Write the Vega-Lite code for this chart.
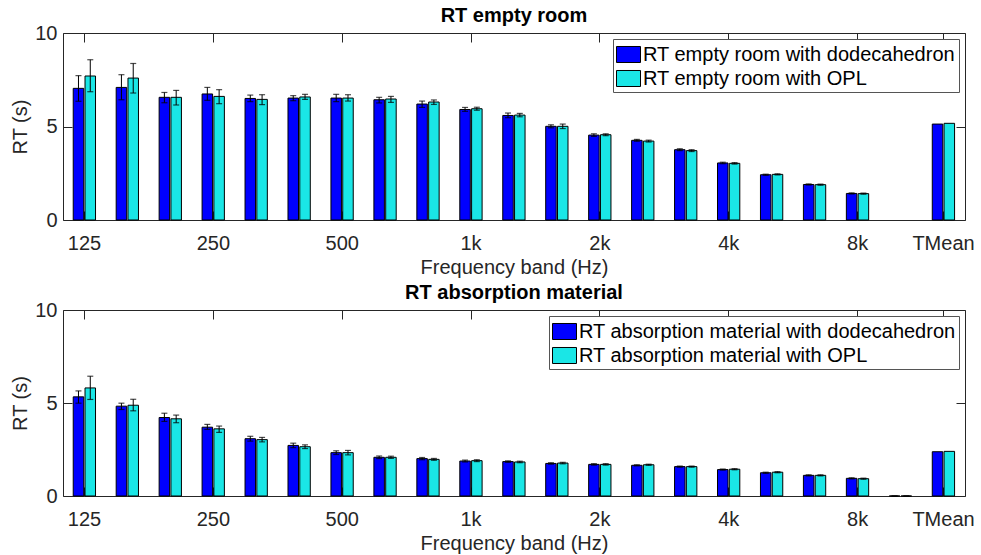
{
  "$schema": "https://vega.github.io/schema/vega-lite/v6.json",
  "background": "white",
  "padding": {"left": 10, "top": 5, "right": 0, "bottom": 0},
  "spacing": 4,
  "config": {
    "font": "Liberation Sans",
    "view": {"stroke": "#262626", "strokeWidth": 1},
    "axis": {
      "labelFont": "Liberation Sans", "titleFont": "Liberation Sans",
      "labelFontSize": 20, "titleFontSize": 20, "titleFontWeight": "normal",
      "labelColor": "#262626", "titleColor": "#262626", "tickColor": "#262626",
      "domain": false, "grid": false, "tickSize": -9, "tickWidth": 1, "minExtent": 0
    },
    "title": {"font": "Liberation Sans", "fontSize": 20, "fontWeight": "bold", "color": "black", "anchor": "middle", "frame": "group", "offset": -3},
    "legend": {
      "labelFont": "Liberation Sans", "labelFontSize": 20, "labelColor": "black", "labelLimit": 500,
      "symbolType": "M-1,-0.667H1V0.667H-1Z", "symbolSize": 576,
      "symbolStrokeColor": "black", "symbolStrokeWidth": 1, "symbolOpacity": 1,
      "fillColor": "white", "strokeColor": "#555555", "padding": 3,
      "rowPadding": 1, "labelOffset": 2, "orient": "top-right", "offset": 6
    }
  },
  "datasets": {
    "empty": [
      {"band": "125", "series": "RT empty room with dodecahedron", "rt": 7.04, "lo": 6.35, "hi": 7.72},
      {"band": "125", "series": "RT empty room with OPL", "rt": 7.70, "lo": 6.86, "hi": 8.57},
      {"band": "160", "series": "RT empty room with dodecahedron", "rt": 7.09, "lo": 6.43, "hi": 7.77},
      {"band": "160", "series": "RT empty room with OPL", "rt": 7.59, "lo": 6.79, "hi": 8.37},
      {"band": "200", "series": "RT empty room with dodecahedron", "rt": 6.56, "lo": 6.27, "hi": 6.82},
      {"band": "200", "series": "RT empty room with OPL", "rt": 6.56, "lo": 6.15, "hi": 6.93},
      {"band": "250", "series": "RT empty room with dodecahedron", "rt": 6.74, "lo": 6.40, "hi": 7.09},
      {"band": "250", "series": "RT empty room with OPL", "rt": 6.61, "lo": 6.22, "hi": 6.97},
      {"band": "315", "series": "RT empty room with dodecahedron", "rt": 6.50, "lo": 6.33, "hi": 6.68},
      {"band": "315", "series": "RT empty room with OPL", "rt": 6.45, "lo": 6.17, "hi": 6.70},
      {"band": "400", "series": "RT empty room with dodecahedron", "rt": 6.52, "lo": 6.38, "hi": 6.65},
      {"band": "400", "series": "RT empty room with OPL", "rt": 6.58, "lo": 6.45, "hi": 6.72},
      {"band": "500", "series": "RT empty room with dodecahedron", "rt": 6.52, "lo": 6.33, "hi": 6.72},
      {"band": "500", "series": "RT empty room with OPL", "rt": 6.52, "lo": 6.36, "hi": 6.70},
      {"band": "630", "series": "RT empty room with dodecahedron", "rt": 6.43, "lo": 6.26, "hi": 6.56},
      {"band": "630", "series": "RT empty room with OPL", "rt": 6.47, "lo": 6.29, "hi": 6.61},
      {"band": "800", "series": "RT empty room with dodecahedron", "rt": 6.20, "lo": 6.02, "hi": 6.36},
      {"band": "800", "series": "RT empty room with OPL", "rt": 6.31, "lo": 6.18, "hi": 6.42},
      {"band": "1k", "series": "RT empty room with dodecahedron", "rt": 5.91, "lo": 5.81, "hi": 6.02},
      {"band": "1k", "series": "RT empty room with OPL", "rt": 5.95, "lo": 5.87, "hi": 6.03},
      {"band": "1.25k", "series": "RT empty room with dodecahedron", "rt": 5.59, "lo": 5.47, "hi": 5.72},
      {"band": "1.25k", "series": "RT empty room with OPL", "rt": 5.61, "lo": 5.52, "hi": 5.70},
      {"band": "1.6k", "series": "RT empty room with dodecahedron", "rt": 5.01, "lo": 4.93, "hi": 5.09},
      {"band": "1.6k", "series": "RT empty room with OPL", "rt": 5.01, "lo": 4.89, "hi": 5.13},
      {"band": "2k", "series": "RT empty room with dodecahedron", "rt": 4.54, "lo": 4.47, "hi": 4.61},
      {"band": "2k", "series": "RT empty room with OPL", "rt": 4.56, "lo": 4.51, "hi": 4.61},
      {"band": "2.5k", "series": "RT empty room with dodecahedron", "rt": 4.26, "lo": 4.21, "hi": 4.31},
      {"band": "2.5k", "series": "RT empty room with OPL", "rt": 4.22, "lo": 4.17, "hi": 4.27},
      {"band": "3.15k", "series": "RT empty room with dodecahedron", "rt": 3.76, "lo": 3.71, "hi": 3.81},
      {"band": "3.15k", "series": "RT empty room with OPL", "rt": 3.71, "lo": 3.66, "hi": 3.76},
      {"band": "4k", "series": "RT empty room with dodecahedron", "rt": 3.05, "lo": 3.01, "hi": 3.09},
      {"band": "4k", "series": "RT empty room with OPL", "rt": 3.03, "lo": 2.99, "hi": 3.07},
      {"band": "5k", "series": "RT empty room with dodecahedron", "rt": 2.42, "lo": 2.39, "hi": 2.45},
      {"band": "5k", "series": "RT empty room with OPL", "rt": 2.44, "lo": 2.41, "hi": 2.47},
      {"band": "6.3k", "series": "RT empty room with dodecahedron", "rt": 1.90, "lo": 1.87, "hi": 1.93},
      {"band": "6.3k", "series": "RT empty room with OPL", "rt": 1.89, "lo": 1.86, "hi": 1.92},
      {"band": "8k", "series": "RT empty room with dodecahedron", "rt": 1.42, "lo": 1.39, "hi": 1.45},
      {"band": "8k", "series": "RT empty room with OPL", "rt": 1.41, "lo": 1.38, "hi": 1.44},
      {"band": "TMean", "series": "RT empty room with dodecahedron", "rt": 5.13},
      {"band": "TMean", "series": "RT empty room with OPL", "rt": 5.17}
    ],
    "absorb": [
      {"band": "125", "series": "RT absorption material with dodecahedron", "rt": 5.33, "lo": 4.99, "hi": 5.65},
      {"band": "125", "series": "RT absorption material with OPL", "rt": 5.81, "lo": 5.19, "hi": 6.44},
      {"band": "160", "series": "RT absorption material with dodecahedron", "rt": 4.83, "lo": 4.65, "hi": 4.99},
      {"band": "160", "series": "RT absorption material with OPL", "rt": 4.88, "lo": 4.58, "hi": 5.20},
      {"band": "200", "series": "RT absorption material with dodecahedron", "rt": 4.22, "lo": 4.01, "hi": 4.45},
      {"band": "200", "series": "RT absorption material with OPL", "rt": 4.15, "lo": 3.94, "hi": 4.35},
      {"band": "250", "series": "RT absorption material with dodecahedron", "rt": 3.70, "lo": 3.58, "hi": 3.85},
      {"band": "250", "series": "RT absorption material with OPL", "rt": 3.61, "lo": 3.42, "hi": 3.76},
      {"band": "315", "series": "RT absorption material with dodecahedron", "rt": 3.08, "lo": 2.95, "hi": 3.21},
      {"band": "315", "series": "RT absorption material with OPL", "rt": 3.03, "lo": 2.91, "hi": 3.15},
      {"band": "400", "series": "RT absorption material with dodecahedron", "rt": 2.72, "lo": 2.60, "hi": 2.84},
      {"band": "400", "series": "RT absorption material with OPL", "rt": 2.65, "lo": 2.55, "hi": 2.75},
      {"band": "500", "series": "RT absorption material with dodecahedron", "rt": 2.33, "lo": 2.23, "hi": 2.43},
      {"band": "500", "series": "RT absorption material with OPL", "rt": 2.33, "lo": 2.21, "hi": 2.45},
      {"band": "630", "series": "RT absorption material with dodecahedron", "rt": 2.08, "lo": 2.01, "hi": 2.15},
      {"band": "630", "series": "RT absorption material with OPL", "rt": 2.08, "lo": 2.02, "hi": 2.14},
      {"band": "800", "series": "RT absorption material with dodecahedron", "rt": 2.01, "lo": 1.95, "hi": 2.07},
      {"band": "800", "series": "RT absorption material with OPL", "rt": 1.97, "lo": 1.92, "hi": 2.02},
      {"band": "1k", "series": "RT absorption material with dodecahedron", "rt": 1.88, "lo": 1.83, "hi": 1.93},
      {"band": "1k", "series": "RT absorption material with OPL", "rt": 1.90, "lo": 1.85, "hi": 1.95},
      {"band": "1.25k", "series": "RT absorption material with dodecahedron", "rt": 1.85, "lo": 1.81, "hi": 1.89},
      {"band": "1.25k", "series": "RT absorption material with OPL", "rt": 1.83, "lo": 1.79, "hi": 1.87},
      {"band": "1.6k", "series": "RT absorption material with dodecahedron", "rt": 1.75, "lo": 1.71, "hi": 1.79},
      {"band": "1.6k", "series": "RT absorption material with OPL", "rt": 1.77, "lo": 1.73, "hi": 1.81},
      {"band": "2k", "series": "RT absorption material with dodecahedron", "rt": 1.70, "lo": 1.66, "hi": 1.74},
      {"band": "2k", "series": "RT absorption material with OPL", "rt": 1.70, "lo": 1.66, "hi": 1.74},
      {"band": "2.5k", "series": "RT absorption material with dodecahedron", "rt": 1.65, "lo": 1.62, "hi": 1.68},
      {"band": "2.5k", "series": "RT absorption material with OPL", "rt": 1.68, "lo": 1.65, "hi": 1.71},
      {"band": "3.15k", "series": "RT absorption material with dodecahedron", "rt": 1.58, "lo": 1.55, "hi": 1.61},
      {"band": "3.15k", "series": "RT absorption material with OPL", "rt": 1.58, "lo": 1.55, "hi": 1.61},
      {"band": "4k", "series": "RT absorption material with dodecahedron", "rt": 1.42, "lo": 1.39, "hi": 1.45},
      {"band": "4k", "series": "RT absorption material with OPL", "rt": 1.44, "lo": 1.41, "hi": 1.47},
      {"band": "5k", "series": "RT absorption material with dodecahedron", "rt": 1.25, "lo": 1.22, "hi": 1.28},
      {"band": "5k", "series": "RT absorption material with OPL", "rt": 1.28, "lo": 1.25, "hi": 1.31},
      {"band": "6.3k", "series": "RT absorption material with dodecahedron", "rt": 1.11, "lo": 1.08, "hi": 1.14},
      {"band": "6.3k", "series": "RT absorption material with OPL", "rt": 1.11, "lo": 1.08, "hi": 1.14},
      {"band": "8k", "series": "RT absorption material with dodecahedron", "rt": 0.95, "lo": 0.92, "hi": 0.98},
      {"band": "8k", "series": "RT absorption material with OPL", "rt": 0.93, "lo": 0.90, "hi": 0.96},
      {"band": "10k", "series": "RT absorption material with dodecahedron", "rt": 0, "lo": 0, "hi": 0},
      {"band": "10k", "series": "RT absorption material with OPL", "rt": 0, "lo": 0, "hi": 0},
      {"band": "TMean", "series": "RT absorption material with dodecahedron", "rt": 2.38},
      {"band": "TMean", "series": "RT absorption material with OPL", "rt": 2.40}
    ]
  },
  "vconcat": [
    {
      "width": 902, "height": 187,
      "title": "RT empty room",
      "data": {"name": "empty"},
      "layer": [
        {
          "transform": [{"filter": "test(/dodecahedron$/, datum.series)"}],
          "mark": {"type": "bar", "stroke": "black", "strokeWidth": 1, "width": 10.5, "xOffset": -6},
          "encoding": {
            "x": {"field": "band", "type": "nominal",
              "scale": {"type": "band", "domain": ["125","160","200","250","315","400","500","630","800","1k","1.25k","1.6k","2k","2.5k","3.15k","4k","5k","6.3k","8k","10k","TMean"], "paddingInner": 0, "paddingOuter": 0},
              "axis": {"orient": "bottom", "values": ["125","250","500","1k","2k","4k","8k","TMean"], "labelAngle": 0, "labelPadding": 22, "title": "Frequency band (Hz)", "titlePadding": 4}},
            "y": {"field": "rt", "type": "quantitative", "scale": {"domain": [0, 10], "nice": false},
              "axis": {"orient": "left", "values": [0, 5, 10], "labelPadding": 15, "title": "RT (s)", "titlePadding": 4}},
            "color": {"field": "series", "type": "nominal",
              "scale": {"domain": ["RT empty room with dodecahedron", "RT empty room with OPL"], "range": ["#0000ff", "#1ae6e6"]},
              "legend": {"title": null}}
          }
        },
        {
          "transform": [{"filter": "test(/OPL$/, datum.series)"}],
          "mark": {"type": "bar", "stroke": "black", "strokeWidth": 1, "width": 10.5, "xOffset": 5.8},
          "encoding": {
            "x": {"field": "band", "type": "nominal", "axis": null},
            "y": {"field": "rt", "type": "quantitative", "axis": null},
            "color": {"field": "series", "type": "nominal"}
          }
        },
        {
          "transform": [{"filter": "test(/dodecahedron$/, datum.series)"}],
          "mark": {"type": "rule", "color": "black", "strokeWidth": 1, "xOffset": -6},
          "encoding": {
            "x": {"field": "band", "type": "nominal", "axis": {"orient": "top", "values": ["125","250","500","1k","2k","4k","8k","TMean"], "labels": false, "title": null}},
            "y": {"field": "lo", "type": "quantitative", "axis": {"orient": "right", "values": [0, 5, 10], "labels": false, "title": null}},
            "y2": {"field": "hi"}
          }
        },
        {
          "transform": [{"filter": "test(/OPL$/, datum.series)"}],
          "mark": {"type": "rule", "color": "black", "strokeWidth": 1, "xOffset": 5.8},
          "encoding": {
            "x": {"field": "band", "type": "nominal", "axis": null},
            "y": {"field": "lo", "type": "quantitative", "axis": null},
            "y2": {"field": "hi"}
          }
        },
        {
          "transform": [{"filter": "test(/dodecahedron$/, datum.series)"}],
          "mark": {"type": "tick", "color": "black", "size": 6, "thickness": 1.2, "orient": "horizontal", "xOffset": -6},
          "encoding": {
            "x": {"field": "band", "type": "nominal", "axis": null},
            "y": {"field": "lo", "type": "quantitative", "axis": null}
          }
        },
        {
          "transform": [{"filter": "test(/dodecahedron$/, datum.series)"}],
          "mark": {"type": "tick", "color": "black", "size": 6, "thickness": 1.2, "orient": "horizontal", "xOffset": -6},
          "encoding": {
            "x": {"field": "band", "type": "nominal", "axis": null},
            "y": {"field": "hi", "type": "quantitative", "axis": null}
          }
        },
        {
          "transform": [{"filter": "test(/OPL$/, datum.series)"}],
          "mark": {"type": "tick", "color": "black", "size": 6, "thickness": 1.2, "orient": "horizontal", "xOffset": 5.8},
          "encoding": {
            "x": {"field": "band", "type": "nominal", "axis": null},
            "y": {"field": "lo", "type": "quantitative", "axis": null}
          }
        },
        {
          "transform": [{"filter": "test(/OPL$/, datum.series)"}],
          "mark": {"type": "tick", "color": "black", "size": 6, "thickness": 1.2, "orient": "horizontal", "xOffset": 5.8},
          "encoding": {
            "x": {"field": "band", "type": "nominal", "axis": null},
            "y": {"field": "hi", "type": "quantitative", "axis": null}
          }
        }
      ],
      "resolve": {"axis": {"x": "independent", "y": "independent"}}
    },
    {
      "width": 902, "height": 186,
      "title": "RT absorption material",
      "data": {"name": "absorb"},
      "layer": [
        {
          "transform": [{"filter": "test(/dodecahedron$/, datum.series)"}],
          "mark": {"type": "bar", "stroke": "black", "strokeWidth": 1, "width": 10.5, "xOffset": -6},
          "encoding": {
            "x": {"field": "band", "type": "nominal",
              "scale": {"type": "band", "domain": ["125","160","200","250","315","400","500","630","800","1k","1.25k","1.6k","2k","2.5k","3.15k","4k","5k","6.3k","8k","10k","TMean"], "paddingInner": 0, "paddingOuter": 0},
              "axis": {"orient": "bottom", "values": ["125","250","500","1k","2k","4k","8k","TMean"], "labelAngle": 0, "labelPadding": 22, "title": "Frequency band (Hz)", "titlePadding": 4}},
            "y": {"field": "rt", "type": "quantitative", "scale": {"domain": [0, 10], "nice": false},
              "axis": {"orient": "left", "values": [0, 5, 10], "labelPadding": 15, "title": "RT (s)", "titlePadding": 4}},
            "color": {"field": "series", "type": "nominal",
              "scale": {"domain": ["RT absorption material with dodecahedron", "RT absorption material with OPL"], "range": ["#0000ff", "#1ae6e6"]},
              "legend": {"title": null}}
          }
        },
        {
          "transform": [{"filter": "test(/OPL$/, datum.series)"}],
          "mark": {"type": "bar", "stroke": "black", "strokeWidth": 1, "width": 10.5, "xOffset": 5.8},
          "encoding": {
            "x": {"field": "band", "type": "nominal", "axis": null},
            "y": {"field": "rt", "type": "quantitative", "axis": null},
            "color": {"field": "series", "type": "nominal"}
          }
        },
        {
          "transform": [{"filter": "test(/dodecahedron$/, datum.series)"}],
          "mark": {"type": "rule", "color": "black", "strokeWidth": 1, "xOffset": -6},
          "encoding": {
            "x": {"field": "band", "type": "nominal", "axis": {"orient": "top", "values": ["125","250","500","1k","2k","4k","8k","TMean"], "labels": false, "title": null}},
            "y": {"field": "lo", "type": "quantitative", "axis": {"orient": "right", "values": [0, 5, 10], "labels": false, "title": null}},
            "y2": {"field": "hi"}
          }
        },
        {
          "transform": [{"filter": "test(/OPL$/, datum.series)"}],
          "mark": {"type": "rule", "color": "black", "strokeWidth": 1, "xOffset": 5.8},
          "encoding": {
            "x": {"field": "band", "type": "nominal", "axis": null},
            "y": {"field": "lo", "type": "quantitative", "axis": null},
            "y2": {"field": "hi"}
          }
        },
        {
          "transform": [{"filter": "test(/dodecahedron$/, datum.series)"}],
          "mark": {"type": "tick", "color": "black", "size": 6, "thickness": 1.2, "orient": "horizontal", "xOffset": -6},
          "encoding": {
            "x": {"field": "band", "type": "nominal", "axis": null},
            "y": {"field": "lo", "type": "quantitative", "axis": null}
          }
        },
        {
          "transform": [{"filter": "test(/dodecahedron$/, datum.series)"}],
          "mark": {"type": "tick", "color": "black", "size": 6, "thickness": 1.2, "orient": "horizontal", "xOffset": -6},
          "encoding": {
            "x": {"field": "band", "type": "nominal", "axis": null},
            "y": {"field": "hi", "type": "quantitative", "axis": null}
          }
        },
        {
          "transform": [{"filter": "test(/OPL$/, datum.series)"}],
          "mark": {"type": "tick", "color": "black", "size": 6, "thickness": 1.2, "orient": "horizontal", "xOffset": 5.8},
          "encoding": {
            "x": {"field": "band", "type": "nominal", "axis": null},
            "y": {"field": "lo", "type": "quantitative", "axis": null}
          }
        },
        {
          "transform": [{"filter": "test(/OPL$/, datum.series)"}],
          "mark": {"type": "tick", "color": "black", "size": 6, "thickness": 1.2, "orient": "horizontal", "xOffset": 5.8},
          "encoding": {
            "x": {"field": "band", "type": "nominal", "axis": null},
            "y": {"field": "hi", "type": "quantitative", "axis": null}
          }
        }
      ],
      "resolve": {"axis": {"x": "independent", "y": "independent"}}
    }
  ],
  "resolve": {"scale": {"color": "independent"}}
}
